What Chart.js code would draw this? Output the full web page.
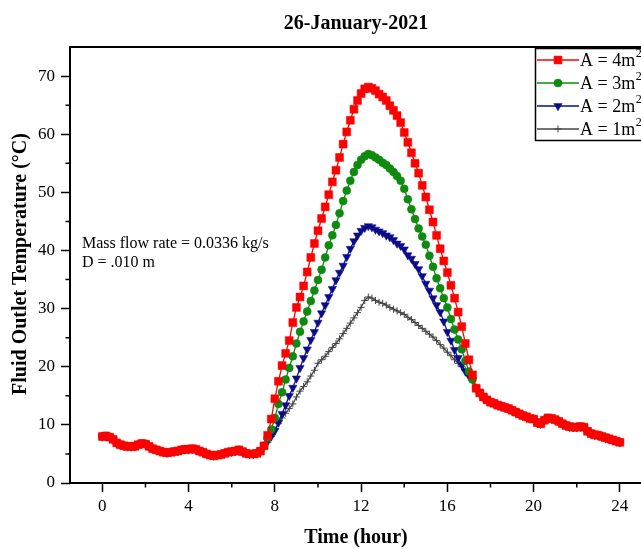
<!DOCTYPE html>
<html>
<head>
<meta charset="utf-8">
<script src="https://cdn.jsdelivr.net/npm/chart.js@4.4.1/dist/chart.umd.min.js"></script>
<style>
  html, body { margin: 0; padding: 0; background: #fff; overflow: hidden; }
  #wrap { width: 641px; height: 549px; overflow: hidden; position: relative; }
  canvas { display: block; }
</style>
</head>
<body>
<div id="wrap"><canvas id="c" width="680" height="549"></canvas></div>
<script>
// ---- Data (10-minute steps from 0 h to 24 h) ----
const titleText = "26-January-2021";
const seriesLabels = ["A = 4m", "A = 3m", "A = 2m", "A = 1m"];
const xTickLabels = [0, 4, 8, 12, 16, 20, 24];
const yTickLabels = [0, 10, 20, 30, 40, 50, 60, 70];

// 0:00 -> 7:30 (shared by all collector areas)
const nightTemp = [8.0, 8.1, 7.9, 7.5, 6.9, 6.6, 6.4, 6.3, 6.3, 6.3, 6.6, 6.8,
  6.7, 6.3, 5.9, 5.7, 5.5, 5.3, 5.2, 5.3, 5.4, 5.5, 5.7, 5.8,
  5.8, 5.9, 5.8, 5.5, 5.3, 5.0, 4.8, 4.7, 4.8, 4.9, 5.1, 5.3,
  5.4, 5.5, 5.7, 5.4, 5.1, 5.0, 5.0, 5.1, 5.5, 6.4];

// 7:40 -> 17:10
const dayA4 = [8.2, 11.0, 14.5, 17.5, 20.2, 22.3, 24.5, 27.6, 30.2, 32.0, 33.9, 36.3,
  38.8, 41.2, 43.4, 45.5, 47.5, 49.6, 51.8, 53.8, 56.0, 58.3, 60.4, 62.4,
  64.3, 65.8, 67.0, 67.8, 68.1, 67.9, 67.5, 66.9, 66.4, 65.8, 64.9, 64.1,
  63.2, 62.0, 60.3, 58.6, 56.8, 55.0, 53.3, 51.2, 49.2, 47.0, 44.9, 42.6,
  40.3, 38.2, 36.2, 34.0, 31.8, 29.4, 26.9, 24.0, 21.2, 18.6];
const dayA3 = [7.8, 9.2, 11.2, 13.6, 15.6, 17.8, 19.8, 21.8, 24.0, 26.0, 27.8, 29.5,
  31.3, 33.1, 34.9, 36.7, 38.8, 40.9, 42.6, 44.4, 46.4, 48.5, 50.3, 52.0,
  53.5, 54.7, 55.6, 56.2, 56.6, 56.4, 56.0, 55.6, 55.1, 54.7, 54.1, 53.5,
  52.8, 52.0, 50.6, 48.8, 47.1, 45.4, 43.8, 42.4, 41.0, 39.1, 37.2, 35.2,
  33.5, 31.8, 30.2, 28.2, 26.4, 24.7, 23.0, 21.0, 19.2, 17.8];
const dayA2 = [7.2, 8.0, 9.0, 10.4, 11.9, 13.4, 15.0, 16.4, 18.0, 19.8, 21.5, 23.0,
  24.6, 26.0, 27.6, 29.2, 30.6, 32.0, 33.4, 34.9, 36.2, 37.4, 38.9, 40.3,
  41.6, 42.6, 43.4, 43.9, 44.2, 44.0, 43.6, 43.3, 43.0, 42.6, 42.3, 41.8,
  41.2, 40.8, 40.2, 39.2, 38.6, 37.7, 36.8, 35.6, 34.3, 33.1, 31.8, 30.6,
  29.4, 27.8, 26.0, 24.5, 22.9, 21.5, 20.3, 19.2, 18.4, 17.8];
const dayA1 = [7.0, 8.0, 9.2, 10.2, 11.2, 12.0, 12.8, 13.6, 14.8, 15.8, 16.6, 17.4,
  18.4, 19.4, 20.6, 21.2, 21.8, 22.6, 23.3, 24.0, 24.8, 25.7, 26.6, 27.5,
  28.4, 29.3, 30.2, 31.4, 32.0, 31.8, 31.4, 31.1, 30.9, 30.6, 30.2, 29.9,
  29.6, 29.3, 29.0, 28.5, 28.1, 27.6, 27.1, 26.6, 26.1, 25.6, 25.1, 24.5,
  23.8, 23.2, 22.5, 21.9, 21.2, 20.6, 20.0, 19.4, 18.8, 18.2];

// 17:20 -> 24:00 (shared)
const eveningTemp = [16.3, 15.5, 14.8, 14.3, 13.9, 13.7, 13.4, 13.2, 13.0, 12.8,
  12.5, 12.2, 11.9, 11.6, 11.4, 11.1, 11.0, 10.4, 10.2, 10.8, 11.2, 11.1,
  10.9, 10.6, 10.2, 9.9, 9.7, 9.6, 9.6, 9.7, 9.6, 8.9, 8.5, 8.3,
  8.2, 8.0, 7.8, 7.6, 7.4, 7.2, 7.0];

const hours = Array.from({ length: nightTemp.length + dayA4.length + eveningTemp.length }, (_, i) => i / 6);

function buildSeries(day) {
  const ys = nightTemp.concat(day, eveningTemp);
  return ys.map((y, i) => ({ x: hours[i], y: y }));
}

const SERIF = '"Liberation Serif", "Times New Roman", serif';
const colors = ['#ff0000', '#0f8a0f', '#0b0b8a', '#444444'];
const styles = ['rect', 'circle', 'triangle', 'cross'];
const radii = [5.6, 4.0, 4.8, 3.5];
const rotations = [0, 0, 180, 0];
const dayArrays = [dayA4, dayA3, dayA2, dayA1];

const datasets = dayArrays.map((d, k) => ({
  label: seriesLabels[k],
  data: buildSeries(d),
  borderColor: colors[k],
  backgroundColor: colors[k],
  borderWidth: 1.3,
  pointStyle: styles[k],
  pointRadius: radii[k],
  pointRotation: rotations[k],
  pointBorderWidth: k === 3 ? 1 : 0.5,
  pointBorderColor: colors[k],
  pointBackgroundColor: colors[k],
  tension: 0,
  fill: false
}));

const decor = {
  id: 'decor',
  afterDraw(chart) {
    const ctx = chart.ctx;
    const a = chart.chartArea;
    const xs = chart.scales.x, ys = chart.scales.y;
    ctx.save();
    // frame
    ctx.strokeStyle = '#000';
    ctx.lineWidth = 2;
    ctx.strokeRect(a.left, a.top, a.right - a.left, a.bottom - a.top);
    // minor ticks
    ctx.lineWidth = 1.5;
    ctx.beginPath();
    xs.ticks.forEach(t => {
      if (t.value % 4 !== 0 && t.value >= xs.min && t.value <= xs.max) {
        const px = xs.getPixelForValue(t.value);
        ctx.moveTo(px, a.bottom); ctx.lineTo(px, a.bottom + 4.5);
      }
    });
    ys.ticks.forEach(t => {
      if (t.value % 10 !== 0 && t.value < ys.max) {
        const py = ys.getPixelForValue(t.value);
        ctx.moveTo(a.left, py); ctx.lineTo(a.left - 4.5, py);
      }
    });
    ctx.stroke();

    // title
    ctx.fillStyle = '#000';
    ctx.textAlign = 'center';
    ctx.textBaseline = 'middle';
    ctx.font = 'bold 20px ' + SERIF;
    ctx.fillText(titleText, 356, 24);
    // x title
    ctx.fillText('Time (hour)', 356, 538);
    // y title
    ctx.save();
    ctx.translate(20.5, 264);
    ctx.rotate(-Math.PI / 2);
    ctx.fillText('Fluid Outlet Temperature (\u00B0C)', 0, 0);
    ctx.restore();

    // annotation
    ctx.textAlign = 'left';
    ctx.font = '16px ' + SERIF;
    ctx.fillText('Mass flow rate = 0.0336 kg/s', 82, 244);
    ctx.fillText('D = .010 m', 82, 263);

    // legend
    ctx.lineWidth = 1.5;
    ctx.strokeStyle = '#000';
    ctx.strokeRect(535.5, 48.5, 200, 92);
    chart.data.datasets.forEach((ds, k) => {
      const y = 60 + k * 23;
      ctx.strokeStyle = ds.borderColor;
      ctx.lineWidth = 1.3;
      ctx.beginPath();
      ctx.moveTo(537, y); ctx.lineTo(579, y);
      ctx.stroke();
      ctx.fillStyle = ds.backgroundColor;
      ctx.lineWidth = k === 3 ? 1 : 0.5;
      Chart.helpers.drawPoint(ctx, {
        pointStyle: ds.pointStyle, radius: ds.pointRadius, rotation: ds.pointRotation, borderWidth: ctx.lineWidth
      }, 558, y);
      ctx.fillStyle = '#000';
      ctx.font = '18px ' + SERIF;
      ctx.textBaseline = 'middle';
      ctx.fillText(ds.label, 580, y + 1);
      const w = ctx.measureText(ds.label).width;
      ctx.font = '12px ' + SERIF;
      ctx.fillText('2', 580 + w + 0.5, y - 6);
    });
    ctx.restore();
  }
};

new Chart(document.getElementById('c'), {
  type: 'line',
  data: { datasets },
  plugins: [decor],
  options: {
    responsive: false,
    animation: false,
    devicePixelRatio: 1,
    layout: { autoPadding: false, padding: { top: 47, left: 0, right: 17, bottom: 0 } },
    plugins: { legend: { display: false }, title: { display: false }, tooltip: { enabled: false } },
    scales: {
      x: {
        type: 'linear',
        min: -1.5, max: 26,
        border: { display: false },
        grid: {
          drawOnChartArea: false, drawTicks: true, tickLength: 9, tickWidth: 1.5,
          tickColor: c => (c.tick && c.tick.value % 4 === 0 && c.tick.value <= 24) ? '#000' : 'rgba(0,0,0,0)'
        },
        ticks: {
          stepSize: 2, autoSkip: false, includeBounds: false, maxRotation: 0, padding: 4,
          color: '#000', font: { family: SERIF, size: 17 },
          callback: v => xTickLabels.includes(v) ? String(v) : ''
        },
        afterFit: s => { s.height = 66; s.paddingLeft = 0; s.paddingRight = 0; }
      },
      y: {
        type: 'linear',
        min: 0, max: 75,
        border: { display: false },
        grid: {
          drawOnChartArea: false, drawTicks: true, tickLength: 9, tickWidth: 1.5,
          tickColor: c => (c.tick && c.tick.value % 10 === 0) ? '#000' : 'rgba(0,0,0,0)'
        },
        ticks: {
          stepSize: 5, autoSkip: false, includeBounds: false, padding: 6,
          color: '#000', font: { family: SERIF, size: 17 },
          callback: v => yTickLabels.includes(v) ? String(v) : ''
        },
        afterFit: s => { s.width = 70; s.paddingTop = 0; s.paddingBottom = 0; }
      }
    }
  }
});
</script>
</body>
</html>
